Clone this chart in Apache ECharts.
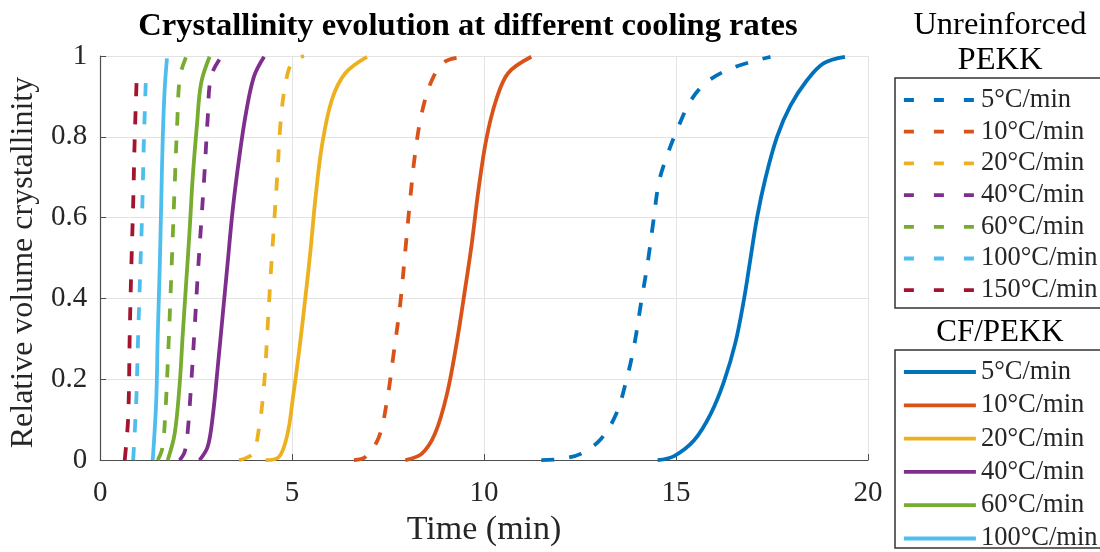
<!DOCTYPE html>
<html>
<head>
<meta charset="utf-8">
<script src="https://cdn.jsdelivr.net/npm/echarts@6/dist/echarts.min.js"></script>
<style>
html,body{margin:0;padding:0;background:#fff;}
#chart{width:1100px;height:552px;}
</style>
</head>
<body>
<div id="chart"></div>
<script>
// ---- data ----
const rateLabels = ['5°C/min','10°C/min','20°C/min','40°C/min','60°C/min','100°C/min','150°C/min'];
const rateColors = ['#0072BD','#D95319','#EDB120','#7E2F8E','#77AC30','#4DBEEE','#A2142F'];
const xTicks = [0, 5, 10, 15, 20];
const yTicks = [0, 0.2, 0.4, 0.6, 0.8, 1];

// Unreinforced PEKK (dashed) : [time (min), relative crystallinity]
const pekk5   = [[11.49,0],[12.0,0.003],[12.53,0.016],[13.05,0.053],[13.44,0.114],[13.70,0.195],[13.91,0.284],[14.09,0.39],[14.26,0.487],[14.40,0.584],[14.56,0.69],[14.78,0.757],[15.04,0.82],[15.38,0.889],[15.82,0.937],[16.51,0.972],[17.46,0.998]];
const pekk10  = [[6.61,0],[6.91,0.008],[7.26,0.057],[7.47,0.146],[7.64,0.26],[7.82,0.39],[7.95,0.52],[8.08,0.65],[8.21,0.763],[8.38,0.86],[8.64,0.94],[8.98,0.986],[9.50,0.998]];
const pekk20  = [[3.62,0],[3.97,0.016],[4.14,0.081],[4.27,0.187],[4.36,0.325],[4.44,0.455],[4.53,0.584],[4.62,0.714],[4.70,0.836],[4.83,0.933],[5.01,0.986],[5.31,1.0]];
const pekk40  = [[2.07,0],[2.20,0.02],[2.28,0.07],[2.37,0.187],[2.46,0.325],[2.54,0.455],[2.63,0.584],[2.72,0.714],[2.80,0.844],[2.89,0.95],[3.15,0.998]];
const pekk60  = [[1.50,0],[1.62,0.03],[1.70,0.12],[1.77,0.26],[1.83,0.40],[1.89,0.55],[1.95,0.70],[2.01,0.84],[2.08,0.95],[2.24,0.998]];
const pekk100 = [[0.86,0],[0.94,0.146],[0.99,0.309],[1.045,0.47],[1.10,0.633],[1.14,0.795],[1.20,0.965]];
const pekk150 = [[0.64,0],[0.73,0.106],[0.77,0.309],[0.81,0.47],[0.86,0.633],[0.90,0.795],[0.96,0.965]];

// CF/PEKK (solid)
const cf5   = [[14.52,0],[14.95,0.01],[15.47,0.049],[15.90,0.114],[16.25,0.195],[16.55,0.292],[16.77,0.398],[16.92,0.487],[17.11,0.60],[17.33,0.698],[17.63,0.80],[17.98,0.877],[18.41,0.94],[18.84,0.982],[19.40,0.998]];
const cf10  = [[7.95,0],[8.38,0.016],[8.72,0.065],[9.03,0.162],[9.29,0.292],[9.50,0.42],[9.68,0.536],[9.85,0.666],[10.06,0.795],[10.32,0.893],[10.63,0.958],[11.23,0.998]];
const cf20  = [[4.31,0],[4.66,0.008],[4.88,0.065],[5.01,0.146],[5.18,0.268],[5.35,0.406],[5.48,0.52],[5.61,0.65],[5.78,0.78],[6.04,0.893],[6.39,0.958],[6.95,0.998]];
const cf40  = [[2.59,0],[2.80,0.033],[2.93,0.106],[3.06,0.227],[3.19,0.357],[3.32,0.487],[3.45,0.617],[3.62,0.747],[3.80,0.86],[4.01,0.95],[4.27,0.998]];
const cf60  = [[1.76,0],[1.94,0.065],[2.07,0.187],[2.15,0.309],[2.24,0.438],[2.33,0.568],[2.41,0.698],[2.52,0.828],[2.63,0.933],[2.85,0.998]];
const cf100 = [[1.37,0],[1.46,0.146],[1.50,0.309],[1.55,0.47],[1.59,0.633],[1.63,0.795],[1.68,0.917],[1.74,0.994]];

const pekkData = [pekk5, pekk10, pekk20, pekk40, pekk60, pekk100, pekk150];
const cfData = [cf5, cf10, cf20, cf40, cf60, cf100];

const SERIF = "'Liberation Serif','Times New Roman',serif";
const pekkNames = pekkData.map((d, i) => 'PEKK|' + rateLabels[i]);
const cfNames = cfData.map((d, i) => 'CF|' + rateLabels[i]);
const LW = 3.8;

const series = [];
pekkData.forEach((d, i) => {
  series.push({
    name: pekkNames[i], type: 'line', data: d, symbol: 'none', showSymbol: false,
    smooth: 0.35, z: 3,
    lineStyle: { color: rateColors[i], width: LW, type: [13, 15] },
    itemStyle: { color: rateColors[i] }
  });
});
cfData.forEach((d, i) => {
  series.push({
    name: cfNames[i], type: 'line', data: d, symbol: 'none', showSymbol: false,
    smooth: 0.35, z: 4,
    lineStyle: { color: rateColors[i], width: LW, type: 'solid' },
    itemStyle: { color: rateColors[i] }
  });
});

const chart = echarts.init(document.getElementById('chart'), null, { renderer: 'canvas' });
chart.setOption({
  animation: false,
  backgroundColor: '#ffffff',
  title: [{
    text: 'Crystallinity evolution at different cooling rates',
    left: 468, top: 10, textAlign: 'center', padding: 0,
    textStyle: { fontFamily: SERIF, fontSize: 32.5, fontWeight: 'bold', color: '#000' }
  }],
  grid: { left: 97, right: 232, top: 56, bottom: 85, containLabel: false },
  xAxis: {
    type: 'value', min: xTicks[0], max: xTicks[xTicks.length - 1], interval: 5,
    name: 'Time (min)', nameLocation: 'middle', nameGap: 46,
    nameTextStyle: { fontFamily: SERIF, fontSize: 34, color: '#262626' },
    axisLine: { lineStyle: { color: '#4d4d4d', width: 1.2 } },
    axisTick: { inside: true, length: 6, lineStyle: { color: '#4d4d4d' } },
    axisLabel: { fontFamily: SERIF, fontSize: 29, color: '#262626', margin: 19 },
    splitLine: { show: true, lineStyle: { color: '#e3e3e3', width: 1 } }
  },
  yAxis: {
    type: 'value', min: yTicks[0], max: yTicks[yTicks.length - 1], interval: 0.2,
    name: 'Relative volume crystallinity', nameLocation: 'middle', nameGap: 44,
    nameTextStyle: { fontFamily: SERIF, fontSize: 32, color: '#262626', padding: [0, 9, 0, 0] },
    axisLine: { show: true, lineStyle: { color: '#4d4d4d', width: 1.2 } },
    axisTick: { show: true, inside: true, length: 6, lineStyle: { color: '#4d4d4d' } },
    axisLabel: { fontFamily: SERIF, fontSize: 29, color: '#262626', margin: 13 },
    splitLine: { show: true, lineStyle: { color: '#e3e3e3', width: 1 } }
  },
  legend: [{
    data: pekkNames, orient: 'vertical', left: 902, top: 86, height: 240, padding: 0,
    itemWidth: 72, itemHeight: 14, itemGap: 3.7,
    formatter: n => n.split('|')[1],
    itemStyle: { color: 'transparent', borderWidth: 0, opacity: 0 },
    lineStyle: { type: [10, 20], width: LW },
    textStyle: { fontFamily: SERIF, fontSize: 26.5, color: '#262626', lineHeight: 28 }
  }, {
    data: cfNames, orient: 'vertical', left: 902, top: 358, height: 240, padding: 0,
    itemWidth: 72, itemHeight: 14, itemGap: 5.3,
    formatter: n => n.split('|')[1],
    itemStyle: { color: 'transparent', borderWidth: 0, opacity: 0 },
    lineStyle: { width: LW },
    textStyle: { fontFamily: SERIF, fontSize: 26.5, color: '#262626', lineHeight: 28 }
  }],
  graphic: [
    { type: 'rect', shape: { x: 895, y: 78, width: 230, height: 230 },
      style: { fill: 'none', stroke: '#333', lineWidth: 1.5 }, silent: true, z: 0 },
    { type: 'rect', shape: { x: 895, y: 350, width: 230, height: 198 },
      style: { fill: 'none', stroke: '#333', lineWidth: 1.5 }, silent: true, z: 0 },
    { type: 'text', x: 1000, y: 8, style: { text: 'Unreinforced\nPEKK', fontFamily: SERIF, fontSize: 32.5,
      lineHeight: 35, fill: '#000', align: 'center' }, silent: true },
    { type: 'text', x: 1000, y: 315, style: { text: 'CF/PEKK', fontFamily: SERIF, fontSize: 31,
      lineHeight: 35, fill: '#000', align: 'center' }, silent: true }
  ],
  series: series
});
</script>
</body>
</html>
